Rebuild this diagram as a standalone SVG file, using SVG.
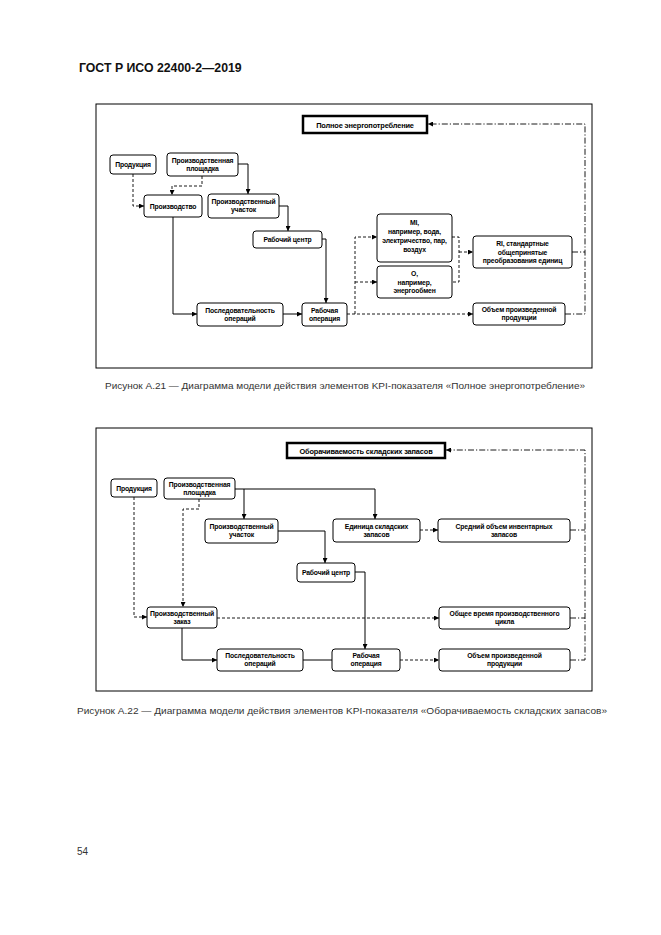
<svg xmlns="http://www.w3.org/2000/svg" width="661" height="935" viewBox="0 0 661 935">
<defs>
<marker id="a" markerUnits="userSpaceOnUse" markerWidth="6" markerHeight="5" refX="5" refY="2.5" orient="auto"><path d="M0,0 L5,2.5 L0,5 z" fill="#000"/></marker>
<style>
.frame{fill:none;stroke:#000;stroke-width:1}
.box{fill:#fff;stroke:#000;stroke-width:1}
.ttl{fill:#fff;stroke:#000;stroke-width:2.5}
.t{font-family:"Liberation Sans",Arial,sans-serif;font-weight:bold;font-size:6.8px;text-anchor:middle;fill:#000;letter-spacing:-0.15px}
.tt{font-family:"Liberation Sans",Arial,sans-serif;font-weight:bold;font-size:7.4px;text-anchor:middle;fill:#000;letter-spacing:-0.15px}
.s{fill:none;stroke:#000;stroke-width:1}
.d{fill:none;stroke:#000;stroke-width:0.9;stroke-dasharray:3,2}
.dd{fill:none;stroke:#000;stroke-width:0.9;stroke-dasharray:6,2,1.2,2}
.cap{font-family:"Liberation Sans",Arial,sans-serif;font-size:9.6px;fill:#333}
</style>
</defs>
<rect width="661" height="935" fill="#fff"/>
<text x="79" y="72" font-family="Liberation Sans, Arial, sans-serif" font-weight="bold" font-size="12.3" fill="#111">ГОСТ Р ИСО 22400-2—2019</text>

<!-- Figure A.21 -->
<rect class="frame" x="96" y="104" width="496" height="264"/>
<g id="connectors1">
<path class="s" d="M238,164 H248 V194" marker-end="url(#a)"/>
<path class="d" d="M202,176 V186 H172 V195" marker-end="url(#a)"/>
<path class="d" d="M133,174 V206 H144" marker-end="url(#a)"/>
<path class="s" d="M279,206 H288 V231" marker-end="url(#a)"/>
<path class="s" d="M173,217 V314 H197" marker-end="url(#a)"/>
<path class="s" d="M322,239 H326 V303" marker-end="url(#a)"/>
<path class="s" d="M283,314 H302" marker-end="url(#a)"/>
<path class="d" d="M347,314 H473" marker-end="url(#a)"/>
<path class="d" d="M355,314 V237 H377" marker-end="url(#a)"/>
<path class="d" d="M355,282 H377" marker-end="url(#a)"/>
<path class="d" d="M452,237 H459 V282 H452"/>
<path class="d" d="M459,252 H473" marker-end="url(#a)"/>
<path class="dd" d="M572,252 H585"/>
<path class="dd" d="M565,314 H585 V124 H428" marker-end="url(#a)"/>
</g>
<g id="n1-title"><rect class="ttl" x="303" y="116" width="124" height="17"/><text class="tt" x="365" y="127.5">Полное энергопотребление</text></g>
<g id="n1-prod"><rect class="box" x="110" y="155" width="46" height="19" rx="3"/><text class="t" x="133" y="167">Продукция</text></g>
<g id="n1-site"><rect class="box" x="167" y="153" width="71" height="23" rx="3"/><text class="t" x="202.5" y="162.5">Производственная</text><text class="t" x="202.5" y="170.5">площадка</text></g>
<g id="n1-proizv"><rect class="box" x="144" y="195" width="58" height="22" rx="3"/><text class="t" x="173" y="208.5">Производство</text></g>
<g id="n1-area"><rect class="box" x="208" y="194" width="71" height="24" rx="3"/><text class="t" x="243.5" y="204">Производственный</text><text class="t" x="243.5" y="212">участок</text></g>
<g id="n1-wc"><rect class="box" x="253" y="231" width="69" height="17" rx="3"/><text class="t" x="287.5" y="242">Рабочий центр</text></g>
<g id="n1-seq"><rect class="box" x="197" y="303" width="86" height="23" rx="3"/><text class="t" x="240" y="312.5">Последовательность</text><text class="t" x="240" y="320.5">операций</text></g>
<g id="n1-op"><rect class="box" x="302" y="303" width="45" height="23" rx="3"/><text class="t" x="324.5" y="312.5">Рабочая</text><text class="t" x="324.5" y="320.5">операция</text></g>
<g id="n1-mi"><rect class="box" x="377" y="214" width="75" height="48" rx="3"/><text class="t" x="414.5" y="225">MI,</text><text class="t" x="414.5" y="234">например, вода,</text><text class="t" x="414.5" y="243">электричество, пар,</text><text class="t" x="414.5" y="252">воздух</text></g>
<g id="n1-o"><rect class="box" x="377" y="266" width="75" height="32" rx="3"/><text class="t" x="414.5" y="276">O,</text><text class="t" x="414.5" y="284.5">например,</text><text class="t" x="414.5" y="293">энергообмен</text></g>
<g id="n1-ri"><rect class="box" x="473" y="236" width="99" height="32" rx="3"/><text class="t" x="522.5" y="246">RI, стандартные</text><text class="t" x="522.5" y="254.5">общепринятые</text><text class="t" x="522.5" y="263">преобразования единиц</text></g>
<g id="n1-vol"><rect class="box" x="473" y="303" width="92" height="22" rx="3"/><text class="t" x="519" y="312">Объем произведенной</text><text class="t" x="519" y="320">продукции</text></g>
<text class="cap" x="345" y="389" text-anchor="middle" textLength="480" lengthAdjust="spacingAndGlyphs">Рисунок А.21 — Диаграмма модели действия элементов KPI-показателя «Полное энергопотребление»</text>

<!-- Figure A.22 -->
<rect class="frame" x="96" y="428" width="496" height="263"/>
<g id="connectors2">
<path class="s" d="M235,489 H375 V519" marker-end="url(#a)"/>
<path class="s" d="M244,489 V519" marker-end="url(#a)"/>
<path class="d" d="M420,530 H438" marker-end="url(#a)"/>
<path class="dd" d="M570,530 H585"/>
<path class="dd" d="M570,618 H585"/>
<path class="dd" d="M570,660 H585 V450 H446" marker-end="url(#a)"/>
<path class="s" d="M278,531 H325 V563" marker-end="url(#a)"/>
<path class="s" d="M355,572 H365 V649" marker-end="url(#a)"/>
<path class="d" d="M134,497 V617 H147" marker-end="url(#a)"/>
<path class="d" d="M199,499 V509 H183 V607" marker-end="url(#a)"/>
<path class="s" d="M182,628 V660 H217" marker-end="url(#a)"/>
<path class="d" d="M217,618 H439" marker-end="url(#a)"/>
<path class="s" d="M303,660 H332"/>
<path class="d" d="M400,660 H439" marker-end="url(#a)"/>
</g>
<g id="n2-title"><rect class="ttl" x="287" y="443" width="158" height="15"/><text class="tt" x="366" y="453.5">Оборачиваемость складских запасов</text></g>
<g id="n2-prod"><rect class="box" x="111" y="479" width="46" height="18" rx="3"/><text class="t" x="134" y="490.5">Продукция</text></g>
<g id="n2-site"><rect class="box" x="164" y="478" width="71" height="21" rx="3"/><text class="t" x="199.5" y="486.5">Производственная</text><text class="t" x="199.5" y="494.5">площадка</text></g>
<g id="n2-area"><rect class="box" x="205" y="519" width="73" height="24" rx="3"/><text class="t" x="241.5" y="529">Производственный</text><text class="t" x="241.5" y="537">участок</text></g>
<g id="n2-unit"><rect class="box" x="333" y="519" width="87" height="23" rx="3"/><text class="t" x="376.5" y="528.5">Единица складских</text><text class="t" x="376.5" y="536.5">запасов</text></g>
<g id="n2-avg"><rect class="box" x="438" y="519" width="132" height="23" rx="3"/><text class="t" x="504" y="528.5">Средний объем инвентарных</text><text class="t" x="504" y="536.5">запасов</text></g>
<g id="n2-wc"><rect class="box" x="297" y="563" width="58" height="19" rx="3"/><text class="t" x="326" y="575">Рабочий центр</text></g>
<g id="n2-order"><rect class="box" x="147" y="607" width="70" height="21" rx="3"/><text class="t" x="182" y="615.5">Производственный</text><text class="t" x="182" y="623.5">заказ</text></g>
<g id="n2-cycle"><rect class="box" x="439" y="607" width="131" height="22" rx="3"/><text class="t" x="504.5" y="616">Общее время производственного</text><text class="t" x="504.5" y="624">цикла</text></g>
<g id="n2-seq"><rect class="box" x="217" y="649" width="86" height="22" rx="3"/><text class="t" x="260" y="658">Последовательность</text><text class="t" x="260" y="666">операций</text></g>
<g id="n2-op"><rect class="box" x="332" y="649" width="68" height="22" rx="3"/><text class="t" x="366" y="658">Рабочая</text><text class="t" x="366" y="666">операция</text></g>
<g id="n2-vol"><rect class="box" x="439" y="649" width="131" height="22" rx="3"/><text class="t" x="504.5" y="658">Объем произведенной</text><text class="t" x="504.5" y="666">продукции</text></g>
<text class="cap" x="342" y="714" text-anchor="middle" textLength="530" lengthAdjust="spacingAndGlyphs">Рисунок А.22 — Диаграмма модели действия элементов KPI-показателя «Оборачиваемость складских запасов»</text>

<text x="77" y="855" font-family="Liberation Sans, Arial, sans-serif" font-size="10" fill="#333">54</text>
</svg>
